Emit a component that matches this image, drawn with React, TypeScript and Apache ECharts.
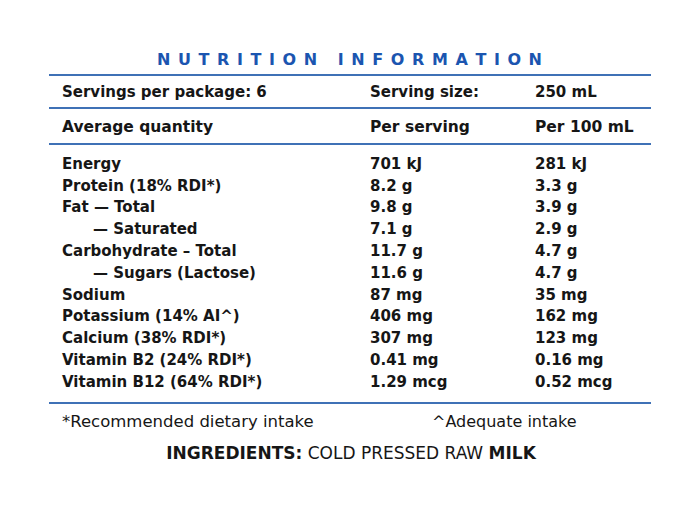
import React, { useEffect, useRef } from 'react';
import * as echarts from 'echarts';

const TITLE = 'NUTRITION INFORMATION';
const servingsPerPackage = 'Servings per package: 6';
const servingSizeLabel = 'Serving size:';
const servingSizeValue = '250 mL';
const headerLabels = ['Average quantity', 'Per serving', 'Per 100 mL'];
const nutrients = [
  'Energy',
  'Protein (18% RDI*)',
  'Fat — Total',
  '— Saturated',
  'Carbohydrate – Total',
  '— Sugars (Lactose)',
  'Sodium',
  'Potassium (14% AI^)',
  'Calcium (38% RDI*)',
  'Vitamin B2 (24% RDI*)',
  'Vitamin B12 (64% RDI*)',
];
const perServing = ['701 kJ', '8.2 g', '9.8 g', '7.1 g', '11.7 g', '11.6 g', '87 mg', '406 mg', '307 mg', '0.41 mg', '1.29 mcg'];
const per100mL = ['281 kJ', '3.3 g', '3.9 g', '2.9 g', '4.7 g', '4.7 g', '35 mg', '162 mg', '123 mg', '0.16 mg', '0.52 mcg'];
const footnotes = ['*Recommended dietary intake', '^Adequate intake'];
const ingredientsLead = 'INGREDIENTS:';
const ingredientsBody = 'COLD PRESSED RAW';
const ingredientsTail = 'MILK';

// layout (pixels)
const COL_X = [62, 370, 535];
const INDENT = 31;
const FONT = '"DejaVu Sans"';
const TEXT = '#161616';
const BLUE_TITLE = '#1b55b0';
const BLUE_LINE = '#3f71b6';

export default function App() {
  const ref = useRef<HTMLDivElement>(null);
  useEffect(() => {
    if (!ref.current) return;
    const chart = echarts.init(ref.current, undefined, { renderer: 'svg' });

    // title letter-spaced
    const titleFontSize = 16;
    const titleWeight = 'bold';
    const tx0 = 157, tx1 = 542;
    const ctx = document.createElement('canvas').getContext('2d')!;
    ctx.font = `${titleWeight} ${titleFontSize}px ${FONT}`;
    const chars = TITLE.split('');
    const widths = chars.map((c) => ctx.measureText(c).width);
    const natural = widths.reduce((a, b) => a + b, 0);
    const gap = (tx1 - tx0 - natural) / (chars.length - 1);
    let cx = tx0;
    const titleEls: any[] = [];
    chars.forEach((c, i) => {
      if (c !== ' ') {
        titleEls.push({
          type: 'text',
          style: { x: cx, y: 59, text: c, fill: BLUE_TITLE, fontSize: titleFontSize, fontWeight: titleWeight, fontFamily: FONT, align: 'left', verticalAlign: 'middle' },
        });
      }
      cx += widths[i] + gap;
    });

    const line = (y: number) => ({
      type: 'line',
      shape: { x1: 49, y1: y, x2: 651, y2: y },
      style: { stroke: BLUE_LINE, lineWidth: 2 },
    });
    const txt = (x: number, y: number, text: string, weight: any, size = 15, align = 'left') => ({
      type: 'text',
      style: { x, y, text, fill: TEXT, fontSize: size, fontWeight: weight, fontFamily: FONT, align, verticalAlign: 'middle' },
    });

    const bodyLabel = {
      show: true,
      position: 'right',
      distance: 0,
      color: TEXT,
      opacity: 1,
      fontFamily: FONT,
      fontSize: 15,
      fontWeight: 'bold',
    };
    const base = {
      type: 'scatter',
      symbolSize: 0,
      itemStyle: { opacity: 1 },
      silent: true,
    };

    const option: any = {
      animation: false,
      grid: { left: 0, right: 0, top: 152.8, height: 239.8 },
      xAxis: { type: 'value', min: 0, max: 700, show: false },
      yAxis: { type: 'category', data: nutrients, inverse: true, show: false },
      series: [
        {
          ...base,
          data: nutrients.map((n, i) => [COL_X[0] + (n.startsWith('—') ? INDENT : 0), i]),
          label: { ...bodyLabel, formatter: (p: any) => nutrients[p.dataIndex] },
        },
        {
          ...base,
          data: perServing.map((v, i) => [COL_X[1], i]),
          label: { ...bodyLabel, formatter: (p: any) => perServing[p.dataIndex] },
        },
        {
          ...base,
          data: per100mL.map((v, i) => [COL_X[2], i]),
          label: { ...bodyLabel, formatter: (p: any) => per100mL[p.dataIndex] },
        },
      ],
      graphic: [
        ...titleEls,
        line(75),
        line(108),
        line(144),
        line(403),
        txt(COL_X[0], 92, servingsPerPackage, 'bold', 15),
        txt(COL_X[1], 92, servingSizeLabel, 'bold', 15),
        txt(COL_X[2], 92, servingSizeValue, 'bold', 15),
        txt(COL_X[0], 126.5, headerLabels[0], 'bold', 15.5),
        txt(COL_X[1], 126.5, headerLabels[1], 'bold', 15.5),
        txt(COL_X[2], 126.5, headerLabels[2], 'bold', 15.5),
        txt(COL_X[0], 421, footnotes[0], 'normal', 16.5),
        txt(432, 421, footnotes[1], 'normal', 16),
        {
          type: 'text',
          style: {
            x: 351,
            y: 453,
            text: `{b|${ingredientsLead}} ${ingredientsBody} {b|${ingredientsTail}}`,
            fill: TEXT,
            fontSize: 17,
            fontWeight: 'normal',
            fontFamily: FONT,
            align: 'center',
            verticalAlign: 'middle',
            rich: { b: { fontSize: 17, fontWeight: 'bold', fontFamily: FONT, fill: TEXT } },
          },
        },
      ],
    };
    chart.setOption(option);
    return () => chart.dispose();
  }, []);
  return <div ref={ref} style={{ position: 'fixed', left: 0, top: 0, width: 700, height: 512, background: '#fff' }} />;
}
